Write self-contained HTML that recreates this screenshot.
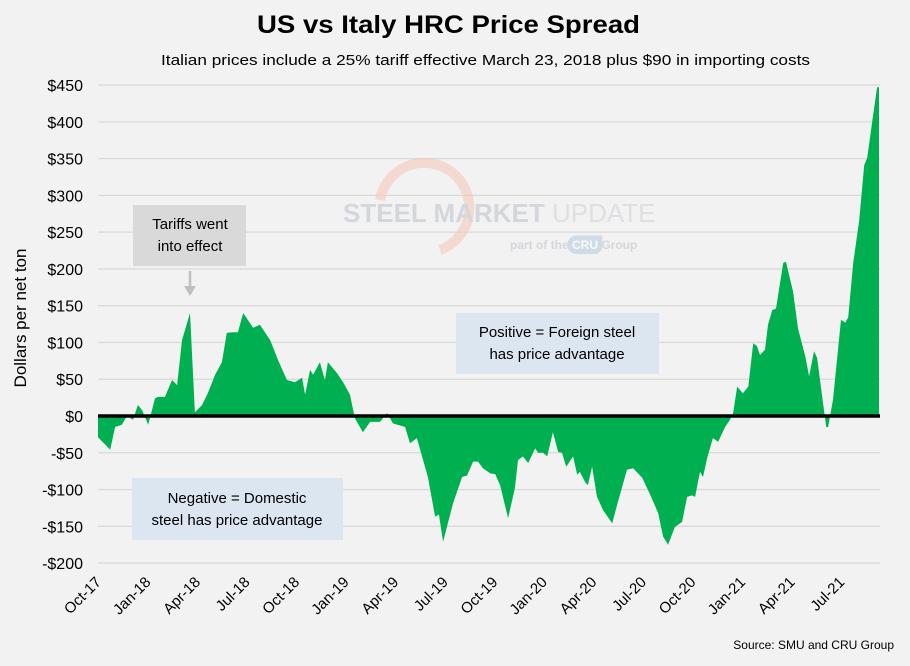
<!DOCTYPE html>
<html><head><meta charset="utf-8"><style>
body{margin:0;background:#f2f2f2;font-family:"Liberation Sans",Arial,sans-serif}
svg text{font-family:"Liberation Sans",Arial,sans-serif}
</style></head><body>
<svg id="c" width="910" height="661" xmlns="http://www.w3.org/2000/svg">
<rect width="910" height="661" fill="#f2f2f2"/>
<text x="257" y="33" textLength="383" lengthAdjust="spacingAndGlyphs" font-size="25" font-weight="bold" fill="#000">US vs Italy HRC Price Spread</text>
<text x="161" y="65" textLength="649" lengthAdjust="spacingAndGlyphs" font-size="15" fill="#000">Italian prices include a 25% tariff effective March 23, 2018 plus $90 in importing costs</text>
<text transform="translate(26,318) rotate(-90)" text-anchor="middle" font-size="17" fill="#000">Dollars per net ton</text>
<g id="grid"></g><g id="ylab"></g><g id="xlab"></g>
<g opacity="0.6">
<path d="M380,200 A45,45 0 1 1 440,250" fill="none" stroke="#f4c9b8" stroke-width="10"/>
<text x="343" y="222" font-size="26" font-weight="bold" fill="#c0c6cc">STEEL MARKET <tspan fill="#d0d4d8" font-weight="normal">UPDATE</tspan></text>
<text x="510" y="249" font-size="12" font-weight="bold" fill="#c0c6cc">part of the <tspan fill="#fff" style="paint-order:stroke" stroke="#b8cde0" stroke-width="10">CRU</tspan> Group</text>
</g>
<path id="area" fill="#00b050"/>
<line id="zero" stroke="#000" stroke-width="3.5"/>
<rect x="133" y="205" width="113" height="61" fill="#d9d9d9"/>
<text x="190" y="229" text-anchor="middle" font-size="15"><tspan x="190">Tariffs went</tspan><tspan x="190" dy="22">into effect</tspan></text>
<line x1="190" y1="271" x2="190" y2="288" stroke="#bfbfbf" stroke-width="2.5"/>
<polygon points="184,286 196,286 190,296" fill="#bfbfbf"/>
<rect x="456" y="313" width="203" height="61" fill="#dce6f1"/>
<text font-size="15" text-anchor="middle"><tspan x="557" y="337">Positive = Foreign steel</tspan><tspan x="557" dy="22">has price advantage</tspan></text>
<rect x="132" y="478" width="211" height="62" fill="#dce6f1"/>
<text font-size="15" text-anchor="middle"><tspan x="237" y="503">Negative = Domestic</tspan><tspan x="237" dy="22">steel has price advantage</tspan></text>
<text x="894" y="649" text-anchor="end" font-size="12">Source: SMU and CRU Group</text>
</svg>
<script>
const weeks=[0,3.2,4.5,6.3,7.6,9.2,10.5,11.6,13.2,15,15.8,17.6,19.5,20.8,22.1,24.2,25.5,27.4,28.9,30.8,32.6,33.9,35.5,36.8,38.2,40.8,42.6,45.3,47.4,49.7,51.8,53.7,54.5,55.8,56.6,58.4,59.7,60.5,62.9,64.5,66.3,67.6,69.7,71.6,74.2,76.1,77.6,80.8,82.1,83.9,86.8,88.7,89.7,90.8,93.4,95.8,97.1,98.7,100,101.3,103.2,104.5,105.8,107.9,109.7,110.5,111.8,113.2,115,115.8,117.1,118.2,119.7,121.1,122.1,123.2,125,126.1,126.8,128.2,128.9,130,131.3,132.9,135.3,136.8,139.2,140.8,143.2,145.3,147.4,148.7,150,151.8,153.7,155,156.3,157.1,158.4,159.2,160.3,161.8,163.2,165,166.3,167.1,168.2,169.7,171.1,172.4,173.4,174.2,175.5,176.3,177.4,178.4,180.3,181,182.9,184.2,186.1,187.1,188.4,189.2,191.6,192.1,193.4,195.5,196.6,197.4,198.7,200.3,201.6,202.4,203.7,205,205.5];
const spread=[-29,-46,-15,-12,0,-5,15,8,-12,24,26,26,49,42,103,140,5,15,31,56,73,113,114,114,140,120,124,103,76,49,46,52,29,63,56,73,49,73,58,46,29,-3,-22,-8,-8,4,-10,-15,-37,-30,-83,-137,-134,-171,-119,-83,-81,-62,-62,-71,-78,-79,-94,-139,-98,-60,-55,-64,-44,-50,-50,-55,-22,-49,-50,-69,-55,-80,-76,-90,-94,-69,-110,-128,-146,-117,-73,-71,-84,-107,-132,-164,-175,-151,-144,-110,-108,-110,-76,-83,-57,-30,-35,-15,-5,4,40,31,40,99,95,83,90,124,144,146,208,210,169,119,81,54,88,79,-15,-15,22,131,127,134,208,266,341,351,400,447,447];
const yTicks=[-200,-150,-100,-50,0,50,100,150,200,250,300,350,400,450];
const xTickLabels=["Oct-17","Jan-18","Apr-18","Jul-18","Oct-18","Jan-19","Apr-19","Jul-19","Oct-19","Jan-20","Apr-20","Jul-20","Oct-20","Jan-21","Apr-21","Jul-21"];
const X0=98,X1=879,W0=0,W1=205.5,Y0=416,PPD=36.77/50;
const xs=w=>X0+(w-W0)/(W1-W0)*(X1-X0);
const ys=v=>Y0-v*PPD;
const NS="http://www.w3.org/2000/svg";
const grid=document.getElementById('grid'),ylab=document.getElementById('ylab'),xlab=document.getElementById('xlab');
yTicks.forEach(t=>{
 const l=document.createElementNS(NS,'line');
 l.setAttribute('x1',X0);l.setAttribute('x2',880);l.setAttribute('y1',ys(t));l.setAttribute('y2',ys(t));
 l.setAttribute('stroke','#d9d9d9');l.setAttribute('stroke-width','1.3');
 
 
 grid.appendChild(l);
 const tx=document.createElementNS(NS,'text');
 tx.setAttribute('x',83);tx.setAttribute('y',ys(t)+6);tx.setAttribute('text-anchor','end');tx.setAttribute('font-size','16');
 tx.textContent=(t<0?'-$'+(-t):'$'+t);
 
 
 ylab.appendChild(tx);
});
xTickLabels.forEach((s,i)=>{
 const x=xs(i*13.04)+4,y=583;
 const tx=document.createElementNS(NS,'text');
 tx.setAttribute('transform','translate('+x+','+y+') rotate(-45)');
 tx.setAttribute('text-anchor','end');tx.setAttribute('font-size','15');
 tx.textContent=s;
 
 
 xlab.appendChild(tx);
});
let d='M'+xs(weeks[0])+','+ys(0);
weeks.forEach((w,i)=>{d+=' L'+xs(w).toFixed(1)+','+ys(spread[i]).toFixed(1);});
d+=' L'+xs(weeks[weeks.length-1])+','+ys(0)+' Z';
document.getElementById('area').setAttribute('d',d);
const z=document.getElementById('zero');
z.setAttribute('x1',X0);z.setAttribute('x2',880);z.setAttribute('y1',ys(0));z.setAttribute('y2',ys(0));
</script>
</body></html>
